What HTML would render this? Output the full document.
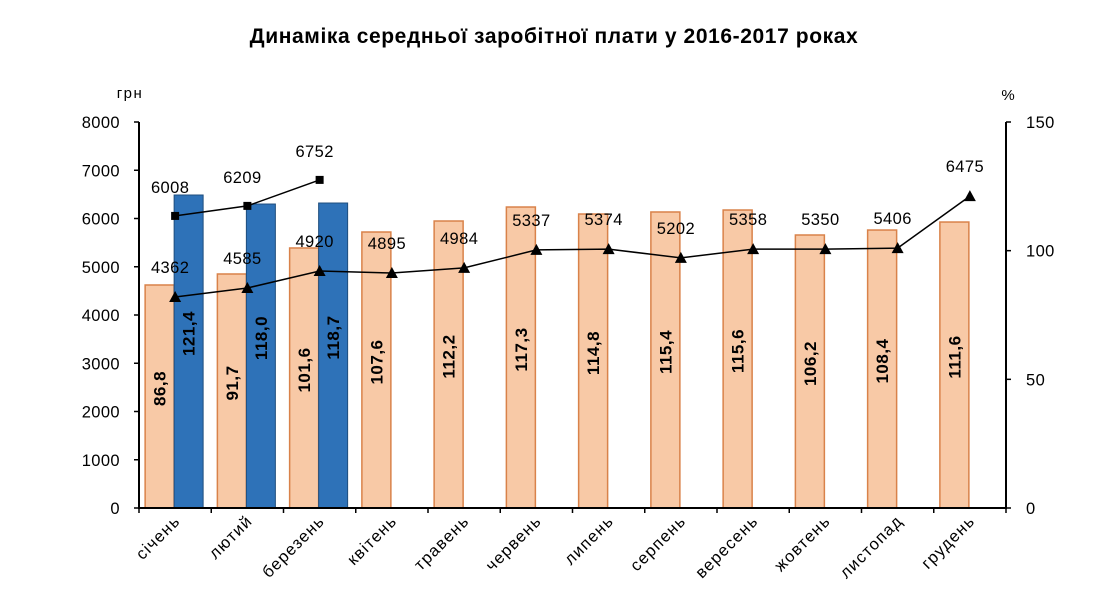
<!DOCTYPE html>
<html><head><meta charset="utf-8"><style>
html,body{margin:0;padding:0;background:#fff;}
svg{display:block;font-family:"Liberation Sans","DejaVu Sans",sans-serif;}
</style></head><body>
<svg id="chart" width="1116" height="610" viewBox="0 0 1116 610">
<text x="554" y="43" text-anchor="middle" font-size="21" font-weight="bold" letter-spacing="0.6">Динаміка середньої заробітної плати у 2016-2017 роках</text>
<text x="130" y="98" text-anchor="middle" font-size="15" letter-spacing="1.5">грн</text>
<text x="1008" y="100" text-anchor="middle" font-size="15">%</text>
</svg>
<script>
const months = ['січень','лютий','березень','квітень','травень','червень','липень','серпень','вересень','жовтень','листопад','грудень'];
const salary2016 = [4622,4850,5389,5720,5948,6238,6093,6135,6176,5658,5761,5927];
const pct2016 = ['86,8','91,7','101,6','107,6','112,2','117,3','114,8','115,4','115,6','106,2','108,4','111,6'];
const salary2017 = [6487,6300,6321];
const pct2017 = ['121,4','118,0','118,7'];
const line2016 = [82.0,85.5,92.1,91.3,93.3,100.3,100.6,97.2,100.6,100.6,101.0,121.2];
const line2016Labels = ['4362','4585','4920','4895','4984','5337','5374','5202','5358','5350','5406','6475'];
const line2017 = [113.5,117.4,127.5];
const line2017Labels = ['6008','6209','6752'];
const leftTicks = [0,1000,2000,3000,4000,5000,6000,7000,8000];
const rightTicks = [0,50,100,150];

const NS='http://www.w3.org/2000/svg';
const svg=document.getElementById('chart');
const X0=139,X1=1006,Y0=508,Y1=122;
const cw=(X1-X0)/months.length;
const cx=i=>X0+cw*(i+0.5);
const yL=v=>Y0-(v/8000)*(Y0-Y1);
const yR=v=>Y0-(v/150)*(Y0-Y1);
function mk(tag,attrs,parent){const e=document.createElementNS(NS,tag);for(const k in attrs)e.setAttribute(k,attrs[k]);(parent||svg).appendChild(e);return e;}

salary2016.forEach((v,i)=>{
  const r=mk('rect',{x:cx(i)-30,y:yL(v),width:29,height:Y0-yL(v),fill:'#f8c9a6',stroke:'#d9824a','stroke-width':1.5});
  
  
  const ly=(yL(v)+Y0)/2-8, lx=cx(i)-15;
  const t=mk('text',{x:lx,y:ly,transform:`rotate(-90 ${lx} ${ly})`,'text-anchor':'middle','dominant-baseline':'central','font-size':17,'font-weight':'bold','letter-spacing':'0.5'});
  t.textContent=pct2016[i];
  
  
});
salary2017.forEach((v,i)=>{
  const r=mk('rect',{x:cx(i)-1,y:yL(v),width:29,height:Y0-yL(v),fill:'#2e72b8',stroke:'#1f4e7e','stroke-width':1});
  
  
  const ly=(yL(v)+Y0)/2-18, lx=cx(i)+14;
  const t=mk('text',{x:lx,y:ly,transform:`rotate(-90 ${lx} ${ly})`,'text-anchor':'middle','dominant-baseline':'central','font-size':17,'font-weight':'bold','letter-spacing':'0.5'});
  t.textContent=pct2017[i];
  
  
});
const ax=mk('path',{d:`M${X0} ${Y1}V${Y0}H${X1}V${Y1}`,fill:'none',stroke:'#000','stroke-width':2});


leftTicks.forEach(v=>{
  mk('line',{x1:X0-5,x2:X0,y1:yL(v),y2:yL(v),stroke:'#000','stroke-width':1.5});
  const t=mk('text',{x:X0-19,y:yL(v)+6,'text-anchor':'end','font-size':16.5,'letter-spacing':'0.4'});
  t.textContent=v;
  
  
});
rightTicks.forEach(v=>{
  mk('line',{x1:X1,x2:X1+5,y1:yR(v),y2:yR(v),stroke:'#000','stroke-width':1.5});
  const t=mk('text',{x:X1+20,y:yR(v)+6,'text-anchor':'start','font-size':16.5,'letter-spacing':'0.4'});
  t.textContent=v;
  
  
});
months.forEach((m,i)=>{
  const tx=X0+cw*(i+1);
  mk('line',{x1:tx,x2:tx,y1:Y0,y2:Y0+5,stroke:'#000','stroke-width':1.5});
  const lx=cx(i)+6, ly=522;
  const t=mk('text',{x:lx,y:ly,transform:`rotate(-45 ${lx} ${ly})`,'text-anchor':'end','font-size':16.5,'letter-spacing':'1.2'});
  t.textContent=m;
  
  
});
mk('line',{x1:X0,x2:X0,y1:Y0,y2:Y0+5,stroke:'#000','stroke-width':1.5});
const p1=mk('polyline',{points:line2016.map((v,i)=>cx(i)+','+yR(v)).join(' '),fill:'none',stroke:'#000','stroke-width':1.5});


line2016.forEach((v,i)=>{
  const x=cx(i),y=yR(v);
  const m=mk('path',{d:`M${x} ${y-6}L${x+6} ${y+5}L${x-6} ${y+5}Z`,fill:'#000'});
  
  
  const t=mk('text',{x:x-5,y:y-24,'text-anchor':'middle','font-size':16.5,'letter-spacing':'0.4'});
  t.textContent=line2016Labels[i];
  
  
});
const p2=mk('polyline',{points:line2017.map((v,i)=>cx(i)+','+yR(v)).join(' '),fill:'none',stroke:'#000','stroke-width':1.5});


line2017.forEach((v,i)=>{
  const x=cx(i),y=yR(v);
  const m=mk('rect',{x:x-4,y:y-4,width:8,height:8,fill:'#000'});
  
  
  const t=mk('text',{x:x-5,y:y-23,'text-anchor':'middle','font-size':16.5,'letter-spacing':'0.4'});
  t.textContent=line2017Labels[i];
  
  
});
</script>
</body></html>
